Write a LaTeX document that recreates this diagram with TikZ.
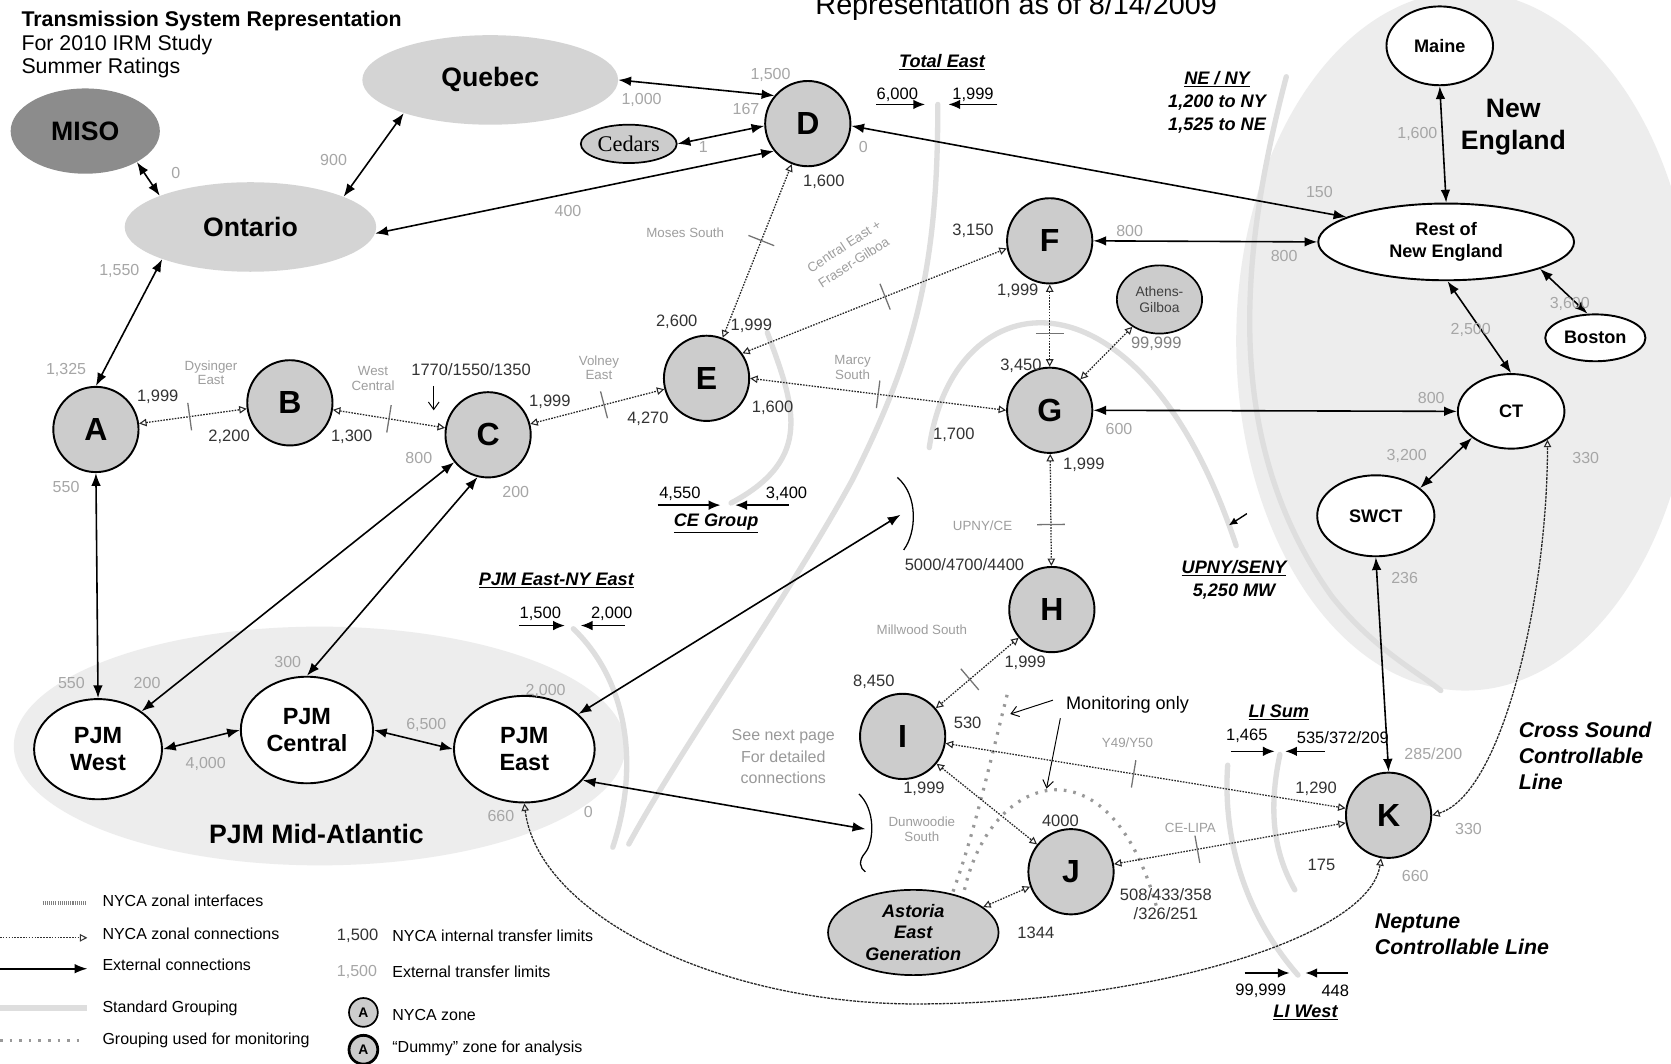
\documentclass[tikz,border=0pt]{standalone}
\usepackage{fontspec}
\setmainfont{Liberation Sans}
\newfontfamily\serifx{Liberation Serif}
\usetikzlibrary{arrows.meta,shapes.geometric,calc}
\newcommand\fsz[2]{\fontsize{#1}{#2}\selectfont}
\begin{document}
\begin{tikzpicture}[x=1pt,y=-1pt,
 zone/.style={circle, draw, line width=1.8pt, fill=black!20, minimum size=80pt, inner sep=0pt, font=\bfseries\fsz{30}{30}},
 extreg/.style={ellipse, fill=black!17, inner sep=0pt, font=\bfseries\fsz{25}{25}},
 wreg/.style={ellipse, draw, line width=1.8pt, fill=white, inner sep=0pt, align=center, font=\bfseries\fsz{17}{20}},
 pjm/.style={ellipse, draw, line width=1.8pt, fill=white, inner sep=0pt, align=center, font=\bfseries\fsz{22}{26}},
 greg/.style={ellipse, draw, line width=1.6pt, fill=black!20, inner sep=0pt, align=center},
 ext/.style={line width=1.5pt, {Latex[length=12pt,width=9pt]}-{Latex[length=12pt,width=9pt]}},
 intc/.style={line width=1.2pt, black!85, dash pattern=on 1.5pt off 1.2pt, {Triangle[open,length=7pt,width=7pt,line width=1pt]}-{Triangle[open,length=7pt,width=7pt,line width=1pt]}},
 xcurve/.style={line width=1.2pt, black!85, dash pattern=on 2.5pt off 1pt, {Triangle[open,length=7pt,width=7pt,line width=1pt]}-{Triangle[open,length=7pt,width=7pt,line width=1pt]}},
 tickm/.style={draw=black!55, line width=1.2pt, dash pattern=on 1pt off 1pt, minimum width=0pt, minimum height=26pt, inner sep=0pt},
 lim/.style={font=\fsz{15.5}{18}, text=black!80, inner sep=0pt},
 xlim/.style={font=\fsz{15}{18}, text=black!35, inner sep=0pt},
 iname/.style={font=\fsz{12.5}{13.5}, text=black!38, align=center, inner sep=0pt},
 grp/.style={line width=5pt, black!13, line cap=round},
 mon/.style={line width=3pt, black!40, dash pattern=on 2.5pt off 6.5pt},
 garrow/.style={line width=1.3pt, -{Latex[length=11pt,width=9pt]}},
 gtitle/.style={font=\bfseries\itshape\fsz{17}{22}, align=center, inner sep=0pt},
 bigl/.style={font=\bfseries\fsz{25}{30}, align=center, inner sep=0pt},
 legt/.style={font=\fsz{15}{17}, anchor=west, inner sep=0pt},
 thin/.style={line width=0.9pt, -{Straight Barb[length=7pt,width=10pt]}}
]
\useasboundingbox (0,0) rectangle (1568,998);
\fill[white] (0,0) rectangle (1568,998);

% background regions
\fill[black!7] (1375,320) ellipse [x radius=215pt, y radius=328pt];
\fill[black!7] (300,700) ellipse [x radius=287pt, y radius=112pt];

% grouping bands
\draw[grp] (880,98) .. controls (880,250) and (860,330) .. (800,450) .. controls (740,560) and (640,700) .. (590,792);
\draw[grp] (720,312) .. controls (745,380) and (765,430) .. (686,472);
\draw[grp] (538,590) .. controls (590,640) and (600,720) .. (575,795);
\draw[grp] (872,420) .. controls (895,260) and (1070,240) .. (1160,512);
\draw[grp] (1207,72) .. controls (1160,250) and (1150,420) .. (1250,560) .. controls (1290,610) and (1330,630) .. (1352,648);
\draw[grp] (1201,708) .. controls (1190,760) and (1195,800) .. (1215,835);
\draw[grp] (1152,718) .. controls (1147,790) and (1170,860) .. (1218,915);

% monitoring grouping
\draw[mon] (945,652) .. controls (928,720) and (912,790) .. (893,840);
\draw[mon] (905,835) .. controls (930,725) and (1040,690) .. (1085,850);

% titles
\node[anchor=base west, inner sep=0, font=\bfseries\fsz{20}{22}] (t1) at (20,25) {Transmission System Representation};
\node[anchor=base west, inner sep=0, font=\fsz{20}{22}] (t2) at (20,47) {For 2010 IRM Study};
\node[anchor=base west, inner sep=0, font=\fsz{20}{22}] (t3) at (20,69) {Summer Ratings};
\node[anchor=base west, inner sep=0, font=\fsz{27}{30}] (t4) at (765,14) {Representation as of 8/14/2009};

% external regions
\node[extreg, fill=black!45, minimum width=140pt, minimum height=80pt] (miso) at (80,123) {MISO};
\node[extreg, minimum width=240pt, minimum height=84pt] (queb) at (460,75) {Quebec};
\node[extreg, minimum width=236pt, minimum height=84pt] (ont) at (235,213) {Ontario};

% zones
\node[zone] (A) at (90,403) {A};
\node[zone] (B) at (272,378) {B};
\node[zone] (C) at (458,408) {C};
\node[zone] (D) at (758,116) {D};
\node[zone] (E) at (663,355) {E};
\node[zone] (F) at (985,226) {F};
\node[zone] (G) at (985,385) {G};
\node[zone] (H) at (987,572) {H};
\node[zone] (I) at (847,691) {I};
\node[zone] (J) at (1005,818) {J};
\node[zone] (K) at (1303,765) {K};
\node[greg, minimum width=90pt, minimum height=36pt, font=\serifx\fsz{21}{21}] (ced) at (590,135) {Cedars};
\node[greg, minimum width=80pt, minimum height=64pt, font=\fsz{13}{15}, text=black!75] (ag) at (1088,281) {Athens-\\Gilboa};
\node[greg, minimum width=160pt, minimum height=80pt, font=\bfseries\itshape\fsz{17}{20}] (ast) at (857,875) {Astoria\\East\\Generation};

% New England
\node[wreg, minimum width=100pt, minimum height=74pt] (maine) at (1351,43) {Maine};
\node[wreg, minimum width=240pt, minimum height=72pt] (rne) at (1357,227) {Rest of\\New England};
\node[wreg, minimum width=94pt, minimum height=44pt] (bos) at (1497,317) {Boston};
\node[wreg, minimum width=100pt, minimum height=70pt] (ct) at (1418,386) {CT};
\node[wreg, minimum width=110pt, minimum height=76pt] (swct) at (1291,484) {SWCT};

% PJM
\node[pjm, minimum width=120pt, minimum height=94pt] (pw) at (92,703) {PJM\\West};
\node[pjm, minimum width=124pt, minimum height=100pt] (pc) at (288,685) {PJM\\Central};
\node[pjm, minimum width=132pt, minimum height=100pt] (pe) at (492,703) {PJM\\East};

% region labels
\node[bigl] (nel) at (1420,119) {New\\England};
\node[bigl] (pjml) at (297,783) {PJM Mid-Atlantic};
\node[anchor=north west, align=left, inner sep=0, font=\bfseries\itshape\fsz{20}{24.5}] (csl) at (1425,677) {Cross Sound\\Controllable\\Line};
\node[anchor=north west, align=left, inner sep=0, font=\bfseries\itshape\fsz{20}{25}] (npl) at (1290,857) {Neptune\\Controllable Line};
\node[align=center, inner sep=0, font=\fsz{15}{20}, text=black!40] (snp) at (735,710) {See next page\\For detailed\\connections};

% brackets
\coordinate (br1) at (845,483);
\coordinate (br2) at (812,778);
\draw[line width=1.2pt] (842,448) .. controls (862,465) and (860,500) .. (848,516);
\draw[line width=1.2pt] (806,745) .. controls (822,760) and (820,790) .. (812,800) .. controls (805,808) and (807,815) .. (812,818);

% external connections
\draw[ext] (miso.-31) -- (ont.161);
\draw[ext] (ont.18) -- (queb.201);
\draw[ext] (ont.-3) -- (D.219);
\draw[ext] (queb.east) -- (D.140);
\draw[ext] (ced.east) -- (D.183);
\draw[ext] (D.-3) -- (rne.166);
\draw[ext] (F.east) -- (rne.west);
\draw[ext] (G.east) -- (ct.west);
\draw[ext] (maine.south) -- (rne.north);
\draw[ext] (rne.-16) -- (bos.108);
\draw[ext] (rne.-88) -- (ct.north);
\draw[ext] (ct.214) -- (swct.32);
\draw[ext] (swct.south) -- (K.north);
\draw[ext] (ont.200) -- (A.north);
\draw[ext] (A.south) -- (pw.north);
\draw[ext] (C.219) -- (pw.41);
\draw[ext] (C.256) -- (pc.north);
\draw[ext] (pw.east) -- (pc.west);
\draw[ext] (pc.east) -- (pe.west);
\draw[ext] (pe.33) -- (br1);
\draw[ext] (pe.-28) -- (br2);
\draw[xcurve] (K.east) .. controls (1410,745) and (1452,560) .. (ct.-38);
\draw[xcurve] (pe.south) .. controls (505,860) and (680,945) .. (870,942) .. controls (1080,940) and (1285,880) .. (K.-100);

% internal connections
\draw[intc] (A) -- node[pos=.47,sloped,tickm]{} (B);
\draw[intc] (B) -- node[pos=.5,sloped,tickm]{} (C);
\draw[intc] (C) -- node[pos=.55,sloped,tickm]{} (E);
\draw[intc] (E) -- node[pos=.56,sloped,tickm]{} (D);
\draw[intc] (E.35) -- node[pos=.54,sloped,tickm]{} (F.190);
\draw[intc] (E.east) -- node[pos=.5,sloped,tickm]{} (G.west);
\draw[intc] (F) -- node[pos=.6,sloped,tickm]{} (G);
\draw[intc] (ag) -- (G);
\draw[intc] (G) -- node[pos=.63,sloped,tickm]{} (H);
\draw[intc] (H) -- node[pos=.59,sloped,tickm]{} (I);
\draw[intc] (I) -- node[pos=.47,sloped,tickm]{} (K);
\draw[intc] (I) -- (J);
\draw[intc] (J) -- node[pos=.36,sloped,tickm]{} (K);
\draw[intc] (ast.20) -- (J.200);

% interface names
\node[iname] (n1) at (198,350) {Dysinger\\East};
\node[iname] (n2) at (350,355) {West\\Central};
\node[iname] (n3) at (562,345) {Volney\\East};
\node[iname] (n4) at (643,218) {Moses South};
\node[iname, rotate=33] (n5a) at (792,231) {Central East +};
\node[iname, rotate=33] (n5b) at (801,246) {Fraser-Gilboa};
\node[iname] (n6) at (800,345) {Marcy\\South};
\node[iname] (n7) at (922,493) {UPNY/CE};
\node[iname] (n8) at (865,591) {Millwood South};
\node[iname] (n9) at (1058,697) {Y49/Y50};
\node[iname] (n10) at (1117,777) {CE-LIPA};
\node[iname] (n11) at (865,778) {Dunwoodie\\South};

% internal limits
\node[lim] at (148,372) {1,999};
\node[lim] at (215,410) {2,200};
\node[lim] at (330,410) {1,300};
\node[lim] at (442,347) {1770/1550/1350};
\draw[thin] (407,362) -- (407,385);
\node[lim] at (516,377) {1,999};
\node[lim] at (608,393) {4,270};
\node[lim] at (635,302) {2,600};
\node[lim] at (773,171) {1,600};
\node[lim] at (705,306) {1,999};
\node[lim] at (913,217) {3,150};
\node[lim] at (725,383) {1,600};
\node[lim] at (895,408) {1,700};
\node[lim] at (955,273) {1,999};
\node[lim] at (958,343) {3,450};
\node[lim, text=black!50] at (1085,323) {99,999};
\node[lim] at (1017,436) {1,999};
\node[lim] at (905,530) {5000/4700/4400};
\node[lim] at (962,622) {1,999};
\node[lim] at (820,640) {8,450};
\node[lim] at (908,678) {530};
\node[lim] at (1235,740) {1,290};
\node[lim] at (867,740) {1,999};
\node[lim] at (995,770) {4000};
\node[lim] at (1240,812) {175};
\node[lim, align=center] at (1094,848) {508/433/358\\/326/251};
\node[lim] at (972,875) {1344};

% external limits
\node[xlim] at (165,162) {0};
\node[xlim] at (313,150) {900};
\node[xlim] at (533,198) {400};
\node[xlim] at (723,70) {1,500};
\node[xlim] at (602,94) {1,000};
\node[xlim] at (700,102) {167};
\node[xlim] at (660,138) {1};
\node[xlim] at (810,138) {0};
\node[xlim] at (1238,180) {150};
\node[xlim] at (1060,217) {800};
\node[xlim] at (1205,240) {800};
\node[xlim] at (1330,126) {1,600};
\node[xlim] at (1473,285) {3,600};
\node[xlim] at (1380,310) {2,500};
\node[xlim] at (1343,373) {800};
\node[xlim] at (1050,403) {600};
\node[xlim] at (1320,428) {3,200};
\node[xlim] at (1488,430) {330};
\node[xlim] at (1318,542) {236};
\node[xlim] at (1345,707) {285/200};
\node[xlim] at (1378,778) {330};
\node[xlim] at (1328,822) {660};
\node[xlim] at (112,254) {1,550};
\node[xlim] at (62,347) {1,325};
\node[xlim] at (62,457) {550};
\node[xlim] at (67,641) {550};
\node[xlim] at (138,641) {200};
\node[xlim] at (393,430) {800};
\node[xlim] at (484,462) {200};
\node[xlim] at (270,621) {300};
\node[xlim] at (193,717) {4,000};
\node[xlim] at (400,680) {6,500};
\node[xlim] at (512,648) {2,000};
\node[xlim] at (470,766) {660};
\node[xlim] at (552,762) {0};

% grouping titles and limits
\node[gtitle] (te) at (884,58) {\underline{Total East}};
\draw[garrow] (822,98) -- (868,98);
\draw[garrow] (936,98) -- (890,98);
\node[lim, text=black] at (842,89) {6,000};
\node[lim, text=black] at (913,89) {1,999};

\node[gtitle] (ceg) at (672,491) {\underline{CE Group}};
\draw[garrow] (617,474) -- (676,474);
\draw[garrow] (740,474) -- (690,474);
\node[lim, text=black] at (638,463) {4,550};
\node[lim, text=black] at (738,463) {3,400};

\node[gtitle] (pjne) at (522,545) {\underline{PJM East-NY East}};
\draw[garrow] (487,587) -- (530,587);
\draw[garrow] (586,587) -- (545,587);
\node[lim, text=black] at (507,576) {1,500};
\node[lim, text=black] at (574,576) {2,000};

\node[gtitle] (nen) at (1142,96) {\underline{NE / NY}\\1,200 to NY\\1,525 to NE};
\node[gtitle] (us) at (1158,544) {\underline{UPNY/SENY}\\5,250 MW};
\draw[garrow, -{Latex[length=8pt,width=7pt]}] (1170,482) -- (1153,493);

\node[gtitle] (lis) at (1200,668) {\underline{LI Sum}};
\draw[garrow] (1155,705) -- (1196,705);
\draw[garrow] (1243,705) -- (1206,705);
\node[lim, text=black] at (1170,690) {1,465};
\node[lim, text=black] at (1260,692) {535/372/209};

\node[gtitle] (liw) at (1225,950) {\underline{LI West}};
\draw[garrow] (1168,913) -- (1210,913);
\draw[garrow] (1265,913) -- (1225,913);
\node[lim, text=black] at (1183,930) {99,999};
\node[lim, text=black] at (1253,930) {448};

% monitoring note
\node[font=\fsz{17}{20}, inner sep=0] (mo) at (1058,661) {Monitoring only};
\draw[thin] (988,657) -- (948,670);
\draw[thin] (995,674) -- (982,740);

% legend
\draw[line width=4pt, black!50, dash pattern=on 1pt off 1pt] (40,847) -- (82,847);
\node[legt] at (96,845) {NYCA zonal interfaces};
\draw[line width=1.2pt, black!80, dash pattern=on 1.5pt off 1.2pt, -{Triangle[open,length=7pt,width=7pt,line width=1pt]}] (0,880) -- (82,880);
\node[legt] at (96,876) {NYCA zonal connections};
\draw[line width=1.5pt, -{Latex[length=12pt,width=9pt]}] (0,909) -- (82,909);
\node[legt] at (96,905) {External connections};
\draw[grp, line width=5pt, line cap=butt] (0,946) -- (82,946);
\node[legt] at (96,946) {Standard Grouping};
\draw[mon] (0,976) -- (75,976);
\node[legt] at (96,976) {Grouping used for monitoring};
\node[lim, anchor=west] at (316,878) {1,500};
\node[legt] at (368,878) {NYCA internal transfer limits};
\node[xlim, anchor=west] at (316,912) {1,500};
\node[legt] at (368,912) {External transfer limits};
\node[zone, minimum size=27pt, line width=1.6pt, font=\bfseries\fsz{13}{13}] (lz1) at (341,950) {A};
\node[legt] at (368,952) {NYCA zone};
\node[zone, minimum size=27pt, line width=2.6pt, font=\bfseries\fsz{13}{13}] (lz2) at (341,985) {A};
\node[legt] at (368,984) {“Dummy” zone for analysis};
\end{tikzpicture}
\end{document}
